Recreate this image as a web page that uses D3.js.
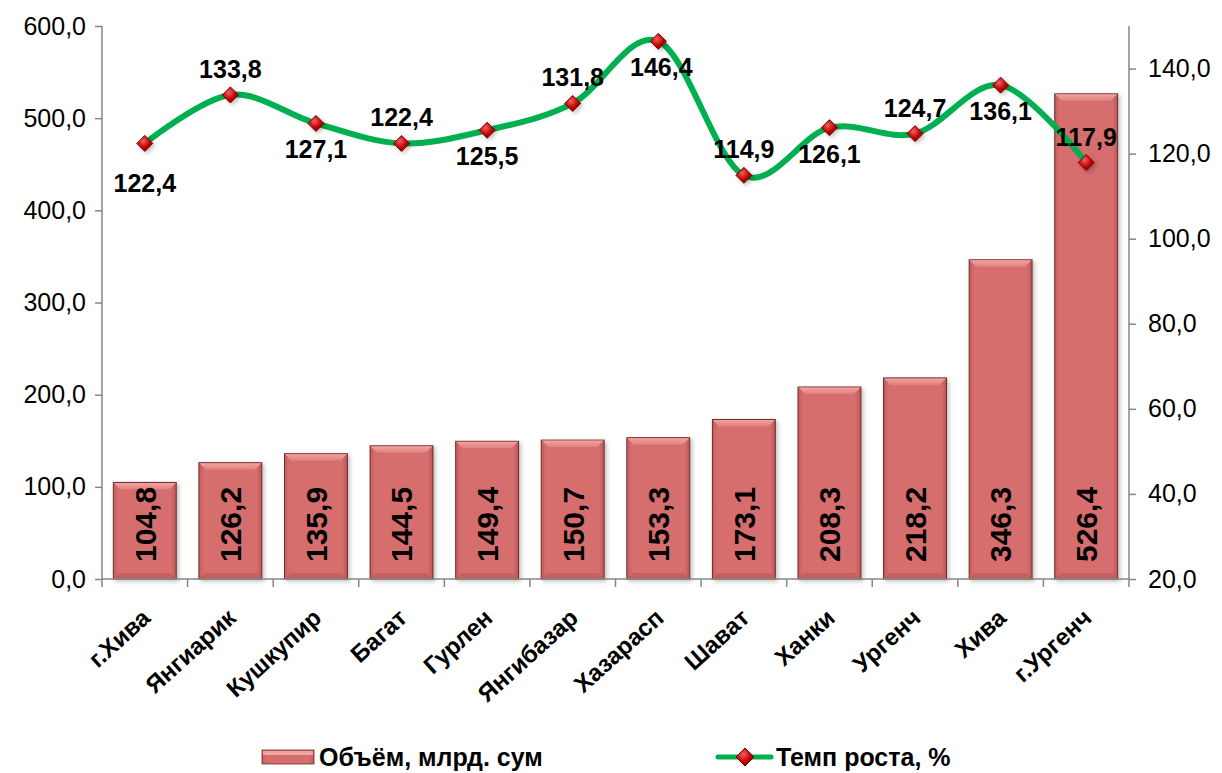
<!DOCTYPE html>
<html>
<head>
<meta charset="utf-8">
<script src="https://cdn.jsdelivr.net/npm/d3@7"></script>
<style>
  body { margin: 0; background: #fff; }
  svg { display: block; font-family: Arial, "Liberation Sans", sans-serif; }
</style>
</head>
<body>
<script>
// categories and values
const categories = ['г.Хива', 'Янгиарик', 'Кушкупир', 'Багат', 'Гурлен', 'Янгибазар',
    'Хазарасп', 'Шават', 'Ханки', 'Ургенч', 'Хива', 'г.Ургенч'];
const volume = [104.8, 126.2, 135.9, 144.5, 149.4, 150.7, 153.3, 173.1, 208.3, 218.2, 346.3, 526.4];
const growth = [122.4, 133.8, 127.1, 122.4, 125.5, 131.8, 146.4, 114.9, 126.1, 124.7, 136.1, 117.9];
const leftTicks = [0, 100, 200, 300, 400, 500, 600];
const rightTicks = [20, 40, 60, 80, 100, 120, 140];
const seriesNames = ['Объём, млрд. сум', 'Темп роста, %'];

const width = 1222;
const height = 773;
const plot = { left: 102, right: 1129, top: 26, bottom: 579 };

const fmt = v => d3.format('.1f')(v).replace('.', ',');

const svg = d3.select('body').append('svg')
    .attr('width', width)
    .attr('height', height);

// gradients / filters
const defs = svg.append('defs');
const barGrad = defs.append('linearGradient').attr('id', 'barGrad')
    .attr('x1', 0).attr('x2', 1).attr('y1', 0).attr('y2', 0);
barGrad.append('stop').attr('offset', '0%').attr('stop-color', '#c45c5c');
barGrad.append('stop').attr('offset', '8%').attr('stop-color', '#d56e6d');
barGrad.append('stop').attr('offset', '92%').attr('stop-color', '#d56e6d');
barGrad.append('stop').attr('offset', '100%').attr('stop-color', '#b95656');

const topGrad = defs.append('linearGradient').attr('id', 'topGrad')
    .attr('x1', 0).attr('x2', 0).attr('y1', 0).attr('y2', 1);
topGrad.append('stop').attr('offset', '0%').attr('stop-color', '#f2a3a2');
topGrad.append('stop').attr('offset', '100%').attr('stop-color', '#e0807f');

const markGrad = defs.append('radialGradient').attr('id', 'markGrad')
    .attr('cx', '40%').attr('cy', '35%').attr('r', '70%');
markGrad.append('stop').attr('offset', '0%').attr('stop-color', '#f06060');
markGrad.append('stop').attr('offset', '60%').attr('stop-color', '#c00000');
markGrad.append('stop').attr('offset', '100%').attr('stop-color', '#8c0000');

const shadow = defs.append('filter').attr('id', 'shadow')
    .attr('x', '-20%').attr('y', '-20%').attr('width', '150%').attr('height', '150%');
shadow.append('feDropShadow').attr('dx', 2).attr('dy', 2).attr('stdDeviation', 2)
    .attr('flood-color', '#000').attr('flood-opacity', 0.25);

// scales
const x = d3.scaleBand()
    .domain(categories)
    .range([plot.left, plot.right])
    .paddingInner(0.265)
    .paddingOuter(0.1325);

const yLeft = d3.scaleLinear().domain([0, 600]).range([plot.bottom, plot.top]);
const yRight = d3.scaleLinear().domain([20, 150]).range([plot.bottom, plot.top]);

const axisColor = '#868686';

// left axis
const leftAxis = svg.append('g')
    .attr('transform', `translate(${plot.left},0)`)
    .call(d3.axisLeft(yLeft).tickValues(leftTicks).tickFormat(fmt).tickSize(7).tickPadding(9));
leftAxis.select('.domain').attr('stroke', axisColor).attr('stroke-width', 1.5)
    .attr('d', `M0,${plot.top}V${plot.bottom}`);
leftAxis.selectAll('.tick line').attr('stroke', axisColor).attr('stroke-width', 1.5);
leftAxis.selectAll('.tick text').attr('font-size', 25).attr('fill', '#000')
    .attr('font-family', 'Arial, "Liberation Sans", sans-serif');

// right axis
const rightAxis = svg.append('g')
    .attr('transform', `translate(${plot.right},0)`)
    .call(d3.axisRight(yRight).tickValues(rightTicks).tickFormat(fmt).tickSize(7).tickPadding(12));
rightAxis.select('.domain').attr('stroke', axisColor).attr('stroke-width', 1.5)
    .attr('d', `M0,${plot.top}V${plot.bottom}`);
rightAxis.selectAll('.tick line').attr('stroke', axisColor).attr('stroke-width', 1.5);
rightAxis.selectAll('.tick text').attr('font-size', 25).attr('fill', '#000')
    .attr('font-family', 'Arial, "Liberation Sans", sans-serif');

// bars
const barG = svg.append('g');
const bars = barG.selectAll('g.bar')
    .data(categories.map((c, i) => ({ c, v: volume[i] })))
    .enter().append('g').attr('class', 'bar');

bars.append('rect')
    .attr('x', d => x(d.c))
    .attr('y', d => yLeft(d.v))
    .attr('width', x.bandwidth())
    .attr('height', d => yLeft(0) - yLeft(d.v))
    .attr('fill', 'url(#barGrad)')
    .attr('stroke', '#6e2b2b')
    .attr('stroke-width', 1)
    .attr('filter', 'url(#shadow)');

// top bevel
bars.append('path')
    .attr('d', d => {
        const x0 = x(d.c), x1 = x0 + x.bandwidth(), y0 = yLeft(d.v), b = 7;
        return `M${x0 + 0.5},${y0 + 0.5}L${x1 - 0.5},${y0 + 0.5}L${x1 - b},${y0 + b}L${x0 + b},${y0 + b}Z`;
    })
    .attr('fill', 'url(#topGrad)');

// bottom bevel shade
bars.append('path')
    .attr('d', d => {
        const x0 = x(d.c), x1 = x0 + x.bandwidth(), y0 = yLeft(0), b = 6;
        return `M${x0 + 0.5},${y0 - 0.5}L${x1 - 0.5},${y0 - 0.5}L${x1 - b},${y0 - b}L${x0 + b},${y0 - b}Z`;
    })
    .attr('fill', '#bf5a5a').attr('opacity', 0.7);

// bottom axis
const bottomAxis = svg.append('g');
bottomAxis.append('line')
    .attr('x1', plot.left).attr('x2', plot.right)
    .attr('y1', plot.bottom).attr('y2', plot.bottom)
    .attr('stroke', axisColor).attr('stroke-width', 1.5);
const step = x.step();
bottomAxis.selectAll('line.tk')
    .data(d3.range(categories.length + 1))
    .enter().append('line').attr('class', 'tk')
    .attr('x1', i => plot.left + i * step).attr('x2', i => plot.left + i * step)
    .attr('y1', plot.bottom).attr('y2', plot.bottom + 8)
    .attr('stroke', axisColor).attr('stroke-width', 1.5);

bottomAxis.selectAll('text')
    .data(categories)
    .enter().append('text')
    .attr('transform', c => `translate(${x(c) + x.bandwidth() / 2 + 7},${plot.bottom + 41}) rotate(-42)`)
    .attr('text-anchor', 'end')
    .attr('font-size', 24)
    .attr('font-weight', 'bold')
    .attr('fill', '#000')
    .text(c => c);

// bar value labels
bars.append('text')
    .attr('transform', d => `translate(${x(d.c) + x.bandwidth() / 2},${plot.bottom - 17}) rotate(-90)`)
    .attr('dy', '0.36em')
    .attr('text-anchor', 'start')
    .attr('font-size', 30)
    .attr('font-weight', 'bold')
    .attr('fill', '#000')
    .text(d => fmt(d.v));

// growth line
const pts = categories.map((c, i) => ({ c, v: growth[i], x: x(c) + x.bandwidth() / 2, y: yRight(growth[i]) }));

svg.append('path')
    .datum(pts)
    .attr('fill', 'none')
    .attr('stroke', '#00b050')
    .attr('stroke-width', 6)
    .attr('stroke-linecap', 'round')
    .attr('d', d3.line().x(d => d.x).y(d => d.y).curve(d3.curveCardinal.tension(0)));

const diamond = s => `M0,${-s}L${s},0L0,${s}L${-s},0Z`;

svg.append('g').selectAll('path')
    .data(pts)
    .enter().append('path')
    .attr('transform', d => `translate(${d.x},${d.y})`)
    .attr('d', diamond(8))
    .attr('fill', 'url(#markGrad)')
    .attr('stroke', '#7a0000')
    .attr('stroke-width', 1)
    .attr('filter', 'url(#shadow)');

// growth labels: alternate below / above
svg.append('g').selectAll('text')
    .data(pts)
    .enter().append('text')
    .attr('x', (d, i) => d.x + (i === 6 ? 3 : 0))
    .attr('y', (d, i) => {
        if (i === 0) return d.y + 40;
        return i % 2 === 0 ? d.y + 26 : d.y - 26;
    })
    .attr('dy', '0.36em')
    .attr('text-anchor', 'middle')
    .attr('font-size', 25)
    .attr('font-weight', 'bold')
    .attr('fill', '#000')
    .text(d => fmt(d.v));

// legend
const legendY = 757;
const legend = svg.append('g');
legend.append('rect')
    .attr('x', 262).attr('y', legendY - 7).attr('width', 52).attr('height', 14)
    .attr('fill', 'url(#barGrad)').attr('stroke', '#6e2b2b').attr('stroke-width', 0.8);
legend.append('rect')
    .attr('x', 263).attr('y', legendY - 6).attr('width', 50).attr('height', 4)
    .attr('fill', '#f2a3a2');
legend.append('text')
    .attr('x', 319).attr('y', legendY).attr('dy', '0.36em')
    .attr('font-size', 25).attr('font-weight', 'bold').attr('fill', '#000')
    .text(seriesNames[0]);

legend.append('line')
    .attr('x1', 718).attr('x2', 771).attr('y1', legendY).attr('y2', legendY)
    .attr('stroke', '#00b050').attr('stroke-width', 5).attr('stroke-linecap', 'round');
legend.append('path')
    .attr('transform', `translate(745,${legendY})`)
    .attr('d', diamond(9))
    .attr('fill', 'url(#markGrad)').attr('stroke', '#7a0000').attr('stroke-width', 1);
legend.append('text')
    .attr('x', 776).attr('y', legendY).attr('dy', '0.36em')
    .attr('font-size', 25).attr('font-weight', 'bold').attr('fill', '#000')
    .text(seriesNames[1]);
</script>
</body>
</html>
